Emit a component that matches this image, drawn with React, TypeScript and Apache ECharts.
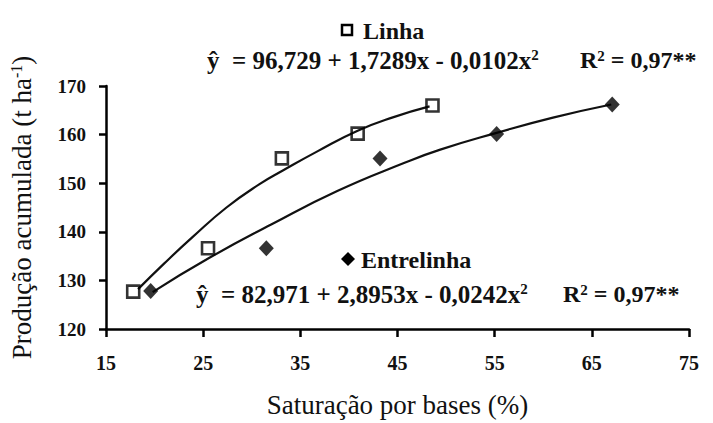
import React, { useEffect, useRef } from "react";
import * as echarts from "echarts";

// Observed points (x = base saturation %, y = accumulated production t/ha)
const linhaX = [17.8, 25.5, 33.1, 40.9, 48.6];
const linhaY = [127.7, 136.6, 155.1, 160.2, 166.0];
const entreX = [19.6, 31.5, 43.2, 55.2, 67.1];
const entreY = [127.8, 136.6, 155.1, 160.1, 166.2];

// Fitted curves
const linhaCurveX = [18.3, 21.0, 23.9, 27.4, 30.8, 33.2, 36.8, 40.9, 44.6, 48.3];
const linhaCurveY = [128.2, 133.5, 138.9, 145.0, 149.8, 152.6, 156.6, 160.8, 163.6, 165.8];
const entreCurveX = [19.8, 25.6, 32.0, 38.8, 45.6, 49.4, 55.1, 61.0, 67.0];
const entreCurveY = [127.6, 134.6, 141.5, 148.4, 154.1, 156.9, 160.3, 163.5, 166.2];

const xMin = 15;
const xMax = 75;
const xStep = 10;
const yMin = 120;
const yMax = 170;
const yStep = 10;

const seriesNames = ["Linha", "Entrelinha"];
const equations = [
  "ŷ  = 96,729 + 1,7289x - 0,0102x{s|2}",
  "ŷ  = 82,971 + 2,8953x - 0,0242x{s|2}",
];
const r2Texts = ["R{s|2} = 0,97**", "R{s|2} = 0,97**"];

const zip = (xs: number[], ys: number[]) => xs.map((x, i) => [x, ys[i]]);

const SERIF = "Liberation Serif, serif";

export default function App() {
  const ref = useRef<HTMLDivElement>(null);
  useEffect(() => {
    if (!ref.current) return;
    const chart = echarts.init(ref.current, undefined, { renderer: "svg" });
    const eqStyle = (text: string, x: number, y: number, size: number) => ({
      type: "text",
      x,
      y,
      style: {
        text,
        fill: "#111",
        fontFamily: SERIF,
        fontSize: size,
        fontWeight: "bold",
        align: "left",
        verticalAlign: "middle",
        rich: {
          s: { fontSize: 15, fontWeight: "bold", fontFamily: SERIF, verticalAlign: "top", fill: "#111" },
        },
      },
    });
    chart.setOption({
      animation: false,
      backgroundColor: "#fff",
      textStyle: { fontFamily: SERIF },
      grid: { left: 104, right: 24, top: 86, bottom: 88, containLabel: false },
      xAxis: {
        type: "value",
        min: xMin,
        max: xMax,
        interval: xStep,
        name: "Saturação por bases (%)",
        nameLocation: "middle",
        nameGap: 62,
        nameTextStyle: { fontFamily: SERIF, fontSize: 27, color: "#111" },
        axisLine: { lineStyle: { color: "#000", width: 2.5 } },
        axisTick: { show: true, length: 8, lineStyle: { color: "#000", width: 2.5 } },
        axisLabel: { fontFamily: SERIF, fontSize: 20, fontWeight: "bold", color: "#111", margin: 24 },
        splitLine: { show: false },
      },
      yAxis: {
        type: "value",
        min: yMin,
        max: yMax,
        interval: yStep,
        name: "Produção acumulada (t ha{s|-1})",
        nameLocation: "middle",
        nameRotate: 90,
        nameGap: 71,
        nameTextStyle: {
          fontFamily: SERIF,
          fontSize: 27,
          color: "#111",
          rich: { s: { fontFamily: SERIF, fontSize: 16, color: "#111", verticalAlign: "top" } },
        },
        axisLine: { show: true, lineStyle: { color: "#000", width: 2.5 } },
        axisTick: { show: true, length: 7, lineStyle: { color: "#000", width: 2.5 } },
        axisLabel: { fontFamily: SERIF, fontSize: 19, fontWeight: "bold", color: "#111", margin: 20 },
        splitLine: { show: false },
      },
      series: [
        {
          name: seriesNames[0] + " fit",
          type: "line",
          data: zip(linhaCurveX, linhaCurveY),
          smooth: 0.5,
          showSymbol: false,
          lineStyle: { color: "#111", width: 2.2 },
          z: 2,
        },
        {
          name: seriesNames[1] + " fit",
          type: "line",
          data: zip(entreCurveX, entreCurveY),
          smooth: 0.5,
          showSymbol: false,
          lineStyle: { color: "#111", width: 2.2 },
          z: 2,
        },
        {
          name: seriesNames[0],
          type: "scatter",
          data: zip(linhaX, linhaY),
          symbol: "rect",
          symbolSize: 12,
          itemStyle: { color: "rgba(255,255,255,0)", borderColor: "#000", borderWidth: 2.6 },
          z: 3,
        },
        {
          name: seriesNames[1],
          type: "scatter",
          data: zip(entreX, entreY),
          symbol: "diamond",
          symbolSize: [15, 16],
          itemStyle: { color: "#000" },
          z: 3,
        },
      ],
      graphic: [
        {
          type: "rect",
          shape: { x: 342, y: 25, width: 10, height: 10 },
          style: { fill: "#fff", stroke: "#000", lineWidth: 2.5 },
        },
        {
          type: "text",
          x: 363,
          y: 31,
          style: { text: seriesNames[0], fontFamily: SERIF, fontSize: 24, fontWeight: "bold", fill: "#111", align: "left", verticalAlign: "middle" },
        },
        eqStyle(equations[0], 207, 60, 25),
        eqStyle(r2Texts[0], 580, 60, 24),
        {
          type: "polygon",
          shape: { points: [[348, 252], [355, 259], [348, 266], [341, 259]] },
          style: { fill: "#000" },
        },
        {
          type: "text",
          x: 361,
          y: 260,
          style: { text: seriesNames[1], fontFamily: SERIF, fontSize: 24, fontWeight: "bold", fill: "#111", align: "left", verticalAlign: "middle" },
        },
        eqStyle(equations[1], 196, 294, 25),
        eqStyle(r2Texts[1], 563, 294, 24),
      ],
    });
    return () => chart.dispose();
  }, []);
  return <div ref={ref} style={{ position: "absolute", left: 0, top: 0, width: 713, height: 423 }} />;
}
